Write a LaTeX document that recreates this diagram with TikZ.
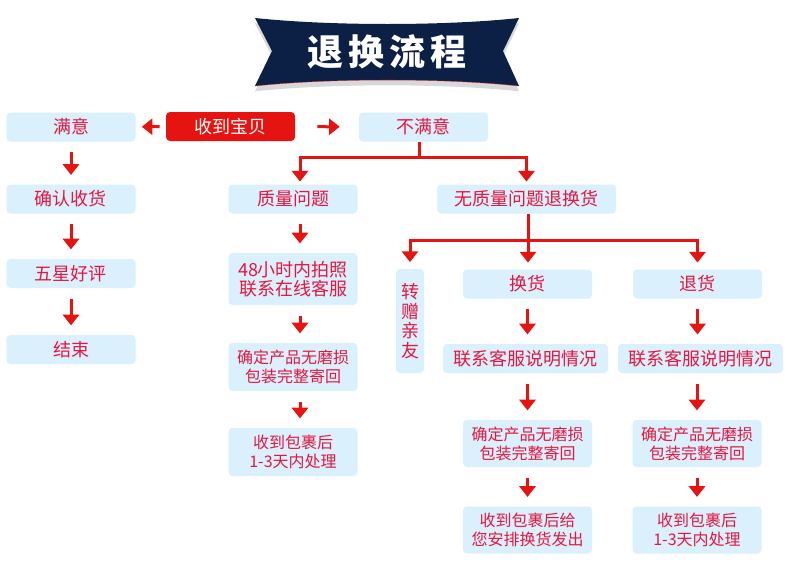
\documentclass[tikz,border=0pt]{standalone}
\usepackage{fontspec}
\setmainfont{Noto Sans CJK SC}
\usetikzlibrary{positioning, arrows.meta, shadows}

\definecolor{navy}{RGB}{12,31,69}
\definecolor{boxblue}{RGB}{218,240,252}
\definecolor{txtred}{RGB}{232,22,62}
\definecolor{arrred}{RGB}{230,20,16}

\begin{document}
\begin{tikzpicture}[x=0.75pt, y=-0.75pt,
    box/.style={fill=boxblue, rounded corners=3pt, text=txtred, font=\fontsize{13.5}{14.6}\selectfont,
      align=center, inner sep=0pt, minimum width=96.75pt, minimum height=21.75pt},
    smallbox/.style={box, font=\fontsize{12}{14.4}\selectfont, minimum height=35.25pt},
    redbox/.style={box, fill=arrred, text=white},
    conn/.style={draw=arrred, line width=2.25pt},
    arr/.style={conn, -{Triangle[width=12pt, length=8pt]}, shorten <=8pt, shorten >=7pt}]

  \fill[white] (0,0) rectangle (790,575);

  % banner
  \fill[navy, drop shadow={shadow xshift=0pt, shadow yshift=-4pt, opacity=0.3}]
    (255,18) .. controls (330,26) and (445,26) .. (519,18) -- (503,51) -- (519,86)
    .. controls (445,78) and (330,78) .. (255,86) -- (272,51) -- cycle;
  \draw[arrred, line width=0.4pt, opacity=0.6] (519,86) .. controls (445,78) and (330,78) .. (255,86);
  \node[text=white, font=\fontsize{27}{27}\selectfont\bfseries] (title) at (387,52)
    {退\hspace{4pt}换\hspace{4pt}流\hspace{4pt}程};

  \node[redbox] (shou) at (230.5,126.5) {收到宝贝};
  \node[box] (manyi) at (71,127) {满意};
  \node[box] (bumanyi) at (423.5,127) {不满意};

  \node[box] (queren) at (71,199) {确认收货};
  \node[box] (wuxing) at (71,273.5) {五星好评};
  \node[box] (jieshu) at (71,349.5) {结束};

  \node[box] (zhiliang) at (293,199) {质量问题};
  \node[box, minimum height=39pt] (paizhao) at (293,279) {48小时内拍照\\联系在线客服};
  \node[smallbox, minimum height=36pt] (queding1) at (293,367) {确定产品无磨损\\包装完整寄回};
  \node[smallbox, minimum height=36pt] (shoudao1) at (293,452) {收到包裹后\\1-3天内处理};

  \node[box, minimum width=134.25pt] (wuzhiliang) at (526.5,199) {无质量问题退换货};
  \node[box, minimum width=21pt, minimum height=78pt] (zhuanzeng) at (410,321) {转\\赠\\亲\\友};
  \node[box] (huanhuo) at (527.5,284) {换货};
  \node[box] (tuihuo) at (697.5,284) {退货};

  \node[box, minimum width=123.75pt] (lianxi2) at (525.5,358.5) {联系客服说明情况};
  \node[smallbox] (queding2) at (527.5,443.5) {确定产品无磨损\\包装完整寄回};
  \node[smallbox] (shoudao2) at (527.5,530) {收到包裹后给\\您安排换货发出};

  \node[box, minimum width=123.75pt] (lianxi3) at (700.5,358.5) {联系客服说明情况};
  \node[smallbox] (queding3) at (697,443.5) {确定产品无磨损\\包装完整寄回};
  \node[smallbox] (shoudao3) at (697,530) {收到包裹后\\1-3天内处理};

  \draw[arr, shorten <=4.5pt, shorten >=4.5pt] (shou) -- (manyi);
  \draw[arr, shorten <=16.5pt, shorten >=14.25pt] (shou) -- (bumanyi);

  \draw[arr] (manyi) -- (queren);
  \draw[arr] (queren) -- (wuxing);
  \draw[arr] (wuxing) -- (jieshu);

  \coordinate (fork1) at (419,157);
  \draw[conn] (bumanyi.south -| fork1) -- (fork1);
  \draw[arr, shorten <=0pt, shorten >=2pt] (fork1) -| ([xshift=5.25pt]zhiliang.north);
  \draw[arr, shorten <=0pt, shorten >=2pt] (fork1) -| (wuzhiliang.north);

  \draw[arr] ([xshift=5.25pt]zhiliang.south) -- ([xshift=5.25pt]paizhao.north);
  \draw[arr] ([xshift=5.25pt]paizhao.south) -- ([xshift=5.25pt]queding1.north);
  \draw[arr] ([xshift=5.25pt]queding1.south) -- ([xshift=5.25pt]shoudao1.north);

  \coordinate (fork2) at (528,240);
  \draw[conn] (wuzhiliang.south -| fork2) -- (fork2);
  \draw[arr, shorten <=0pt, shorten >=5pt] (fork2) -| (zhuanzeng.north);
  \draw[arr, shorten <=0pt, shorten >=5pt] (fork2) -- (fork2 |- huanhuo.north);
  \draw[arr, shorten <=0pt, shorten >=5pt] (fork2) -| (tuihuo.north);

  \draw[arr] (huanhuo.south) -- (huanhuo.south |- lianxi2.north);
  \draw[arr] (queding2.north |- lianxi2.south) -- (queding2.north);
  \draw[arr] (queding2) -- (shoudao2);

  \draw[arr] (tuihuo.south) -- (tuihuo.south |- lianxi3.north);
  \draw[arr] (queding3.north |- lianxi3.south) -- (queding3.north);
  \draw[arr] (queding3) -- (shoudao3);
\end{tikzpicture}
\end{document}
